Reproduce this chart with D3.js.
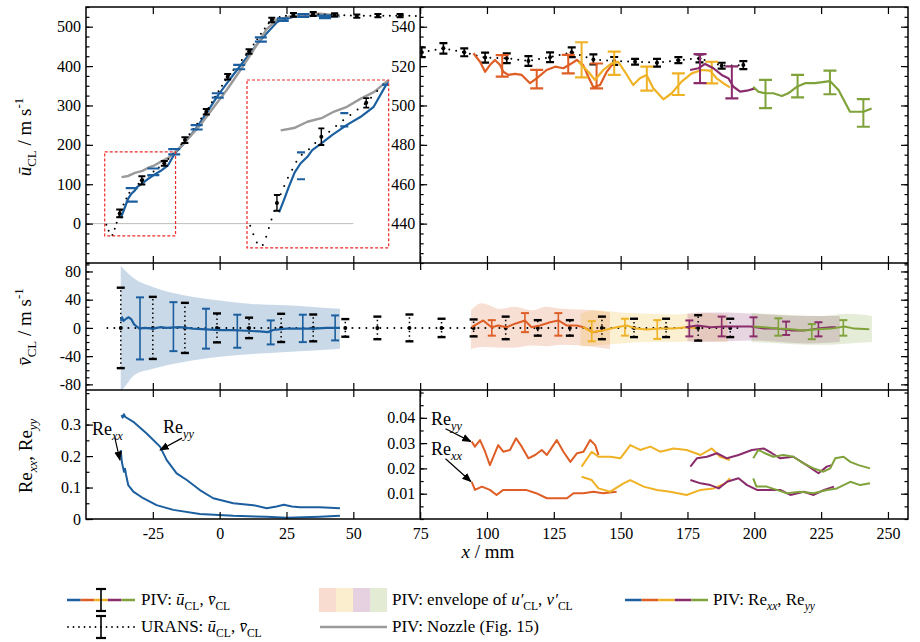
<!DOCTYPE html>
<html>
<head>
<meta charset="utf-8">
<script src="https://cdn.jsdelivr.net/npm/d3@7"></script>
<style>
  body { margin: 0; background: #fff; }
</style>
</head>
<body>
<div id="chart"></div>
<script>
// ---------------- data ----------------
// top panel: URANS centreline velocity (dotted), left part uses the left scale
const uransUL = [[-42.4,-3],[-41.8,-14],[-41.2,-24],[-40.2,-30],[-39.5,-19],[-39,-8],[-38.5,3],[-38,14],[-37.4,26],[-36.2,45],[-35.5,56],[-34.7,66],[-33.9,77],[-33,86],[-31.4,94],[-30.4,101],[-29.1,110],[-27.7,116],[-26.1,125],[-24.4,134],[-22.4,144],[-20.7,153],[-17,180],[-13,212],[-9,248],[-5,284],[-1,330],[3,373],[7,405],[11,437],[15,478],[19,515],[23,526],[27,530],[31,531],[35,532],[39,531],[43,530],[47,529],[51,528],[55,528],[59,528],[63,528],[67,528],[71,528],[75,527]]
const uransBarXL = [-37.4,-29.1,-20.7,-13,-5,3,11,19.5,27.6,35,43,51.3,59.2,67.5]
const uransBarUL = [26,110,153,212,284,373,437,517,530,532,530,527,528,528]
const uransBarEL = [10,10.5,6,7,7,7,6,6,5,5,4,4,4,4]
// right part (zoomed scale)
const uransBarXR = [75.6,83.7,91.5,99.3,107.4,115.5,123.6,131.7,139.8,147.6,155.4,163.6,171.6,179.5,187.8,195.9]
const uransBarUR = [527,529,527,524.3,524,522.6,524.5,527,523.4,522.6,522.2,521.7,523,523.9,520.2,520.5]
const uransBarER = [2.5,2.7,2,2.5,2.5,2.5,2.5,2.5,2.5,2,1.5,2,1.5,2,1.5,2]

// top panel: PIV (blue) and nozzle (gray)
const pivUL = [[-37,14],[-36.1,29.5],[-35.2,46],[-34.1,64.5],[-33,76],[-31.7,84.5],[-30.8,93],[-29.2,101],[-27.1,112],[-24.3,125],[-21.8,135],[-19.3,148],[-16.8,178],[-12.5,210],[-8.6,244],[-4.5,285],[-0.7,325],[3.3,362],[7.3,397],[11.3,432],[15.4,467],[19.5,497],[21.5,512],[23.6,518],[27.5,525],[31.3,528],[35.5,530],[39.4,525],[45,527]]
const pivCapX = [-32.9,-24.8,-17,-8.6,-0.7,7.3,15.4,23.6,31.3,39.4]
const pivCapU = [73,131.5,182.5,244.5,325.5,397.5,467.5,518,528.5,525]
const pivCapE = [17,8.5,6.5,5.5,5.5,5.5,5.5,3,3.5,3]
const nozzle = [[-36.7,118],[-34.2,121],[-31.7,129],[-28.9,134],[-26.7,142],[-24.3,148],[-21.8,158],[-19.2,167],[-16.9,180],[-12.3,212],[-7.3,250],[-2.3,295],[2.7,340],[7.6,388],[12.6,440],[17.6,494],[21.3,517],[26.3,526],[32.6,530],[37.5,533],[42.5,530],[45,528]]

// top panel right: PIV windows
const uOrange = [[94.9,526.5],[97.4,522.2],[99.3,517.1],[101.1,520.5],[103,523.1],[104.9,520.5],[106.1,517.1],[108,515.5],[110.5,516],[113,515.5],[116.1,511.3],[118.6,513.8],[122.3,518],[125.5,519.7],[128.6,518.9],[131.7,521.4],[133.6,523.1],[136,520.5],[137.9,514.6],[139.8,509.2],[142.3,510.4],[144.8,517.1],[146.7,520.5],[148.1,523]]
const uYellow = [[134.2,522.2],[137.9,517.1],[140.4,512.9],[143.5,518],[146.6,521.4],[149.1,522.2],[151.6,517.1],[154.7,510.4],[157.2,513.8],[159.7,515.5],[162.2,508.7],[166,503.1],[169.1,506.2],[172.8,512.1],[176.6,516.3],[180.3,518],[183.4,517.7],[185.9,513.8],[188.4,511.3],[190.9,509.2]]
const uPurple = [[176,518],[179.1,518.9],[181.6,521.1],[184.7,518.9],[187.8,515.5],[190.3,513.8],[192.2,509.5],[194.7,507],[197.2,507.5],[200.3,508.7]]
const uGreen = [[199.6,509.5],[201.5,507],[204,506.2],[207.1,506.2],[210.3,504.8],[212.7,506.2],[215.9,509.5],[219,511.3],[222.7,511.3],[228.3,512.4],[231.5,507.8],[235.8,496.8],[240.8,496.8],[243.9,498.5]]
const uBarOrange = {x: [105.7,118.6,130.4,141], m: [520.1,513.4,521,515], e: [5.5,4.7,4.7,6.3]}
const uBarYellow = {x: [135.4,147.6,159.8,171.6,184.1], m: [523.2,521.4,513.6,510.8,516.7], e: [8.9,5.9,6.1,5.5,5.5]}
const uBarPurple = {x: [179.7,191.6], m: [518.7,511.7], e: [7.4,8.1]}
const uBarGreen = {x: [204.2,216.2,228.3,240.8], m: [505.8,509.8,511.7,496.2], e: [7.2,5.7,6,7]}

// middle panel: v
const uransVX = [-37,-25,-13,-1,11,23,35,47,59,71,83,95,107,119,131,143,155,167,179,191]
const uransVE = [57,44,35.5,20.5,14.5,20,19,12.5,16,19,13,12,16,11,11,16,13,13,18,13]
const uransVLine = [[-42,0],[196,0]]
const envBlue = [[-37,-91,88],[-35,-81,80],[-32,-67,70],[-25,-58,58],[-13,-48,46],[0,-41,39],[12,-37,34],[25,-34,32],[35,-32,29.5],[45,-29.5,27]]
const envOrange = [[94,-30,25],[98,-27,35],[105,-28,27],[110,-28,30],[117,-25,25],[122,-26,30],[128,-24,27],[135,-25,26],[140,-27,25],[146,-30,22]]
const envYellow = [[135,-26,20],[140,-25,25],[150,-22,22],[160,-20,20],[170,-20,19],[180,-19,21],[190,-20,19]]
const envPurple = [[175,-19,20],[180,-20,22],[190,-19,22],[200,-18,20],[210,-20,18],[220,-22,17],[232,-20,17]]
const envGreen = [[199,-20,21],[205,-21,20],[215,-23,18],[225,-24,17],[235,-22,20],[244,-20,17]]
const vBlue = [[-37,10],[-36.5,15],[-36,10],[-35,13],[-34,15],[-33,12],[-32,5],[-31,2],[-30,-1],[-28,0],[-25,-1],[-22,1],[-20,0],[-15,1],[-10,-1],[-5,-2],[0,-3],[5,-3],[10,-4],[15,-5],[18,-6],[20,-3],[25,-1],[30,-1],[35,-1],[40,0],[45,0]]
const vOrange = [[94.3,1],[98.6,10.6],[101.7,1],[104.2,3.5],[107.4,1],[110.5,6],[114.2,10.6],[116.7,1],[119.8,3.5],[123.6,8],[126.7,10.6],[129.8,3.5],[133.6,3.5],[136.1,1],[139.8,-6],[143.5,-3.5]]
const vYellow = [[136,1],[139.2,-6],[143.5,-3.5],[148.5,1],[152.2,3.5],[156,-1],[159.7,-2.3],[164.7,-1],[169.7,-1],[174.7,1],[178,0]]
const vPurple = [[174.3,1],[178.7,3.5],[183.7,1],[188.7,2],[193.7,2],[198.7,2],[203.7,-1],[208.7,-1],[213.7,-3.5],[218.7,-3.5],[223.7,-1],[228.7,1],[230.6,1]]
const vGreen = [[199.6,2],[203.7,1],[208.7,-1],[213.7,-2],[218.7,-3.5],[223.7,-2],[228.7,-1],[233.7,2],[237.4,-1],[243,-2]]
const vBarBlue = {x: [-29.8,-17.3,-5.1,6.6,19.1,31.1,43.2], m: [-0.7,1.8,-1.1,-4.7,-6.4,-0.7,0], e: [44,34.7,28.3,23.4,17,19.4,17.7]}
const vBarOrange = {x: [101.8,114.2,126.7], m: [0,7.5,5], e: [11,13.5,16]}
const vBarYellow = {x: [139.2,151.6,163.7], m: [-4.7,1,-2.3], e: [14.3,12,13.3]}
const vBarPurple = {x: [175.7,187.8,199.7,211.9,224], m: [-0.7,2,1.5,-0.5,-2], e: [11.3,14,13.5,9.5,10]}
const vBarGreen = {x: [209,221.5,233.3], m: [1.3,-5.3,0], e: [12.3,10.7,11]}

// bottom panel: Reynolds stresses
const reyyBlue = [[-36.7,0.330],[-36.3,0.322],[-35.8,0.333],[-35.4,0.325],[-32.3,0.309],[-27.3,0.272],[-22.3,0.230],[-19.8,0.187],[-16.1,0.145],[-12.3,0.124],[-7.4,0.092],[-2.4,0.066],[5.1,0.050],[12.6,0.044],[17.6,0.034],[21.3,0.040],[24,0.045],[27,0.040],[30,0.037],[37.5,0.037],[45,0.034]]
const rexxBlue = [[-37,0.219],[-36.6,0.182],[-35.8,0.150],[-35.4,0.160],[-35,0.140],[-34.2,0.108],[-32.3,0.087],[-28.6,0.066],[-23.6,0.044],[-17.3,0.029],[-7.4,0.016],[5.1,0.010],[17.6,0.007],[25.1,0.004],[37.5,0.007],[45,0.010]]
const reyyOrange = [[94.3,0.0306],[95.5,0.0286],[97.4,0.0312],[99.3,0.0266],[101.1,0.0213],[104.2,0.0292],[106.1,0.0266],[108.6,0.0273],[110.9,0.0319],[113,0.0286],[115.5,0.0240],[118,0.0253],[120.5,0.0273],[122.4,0.0253],[126.1,0.0312],[128.6,0.0266],[131.2,0.0226],[133.7,0.0260],[136.1,0.0266],[138.6,0.0312],[140.5,0.0292],[141.7,0.0253]]
const rexxOrange = [[94.3,0.0147],[95.5,0.0115],[98.1,0.0128],[101.1,0.0115],[103.6,0.0095],[106.1,0.0115],[110.9,0.0115],[114.6,0.0115],[118.4,0.0102],[122.4,0.0082],[126.1,0.0082],[129.9,0.0082],[132.4,0.0102],[136.1,0.0102],[139.8,0.0108],[143.5,0.0102],[148.5,0.0108]]
const reyyYellow = [[135.4,0.0207],[136.6,0.0226],[139.2,0.0266],[141.7,0.0246],[146.1,0.0246],[149.9,0.0240],[153.6,0.0292],[157.3,0.0273],[161.1,0.0286],[164.8,0.0266],[169.8,0.0279],[174.7,0.0273],[179.9,0.0253],[184.1,0.0279],[187.2,0.0246],[190.9,0.0233]]
const rexxYellow = [[135.4,0.0167],[139.2,0.0154],[141.7,0.0121],[146.1,0.0108],[151.1,0.0141],[153.6,0.0154],[158.6,0.0128],[163.6,0.0115],[168.5,0.0108],[174.7,0.0095],[179.9,0.0115],[184.7,0.0121],[189.2,0.0141],[190.9,0.0161]]
const reyyPurple = [[176.1,0.0207],[178.5,0.0240],[182.3,0.0246],[186,0.0260],[189.8,0.0240],[194.1,0.0253],[199.1,0.0273],[203.5,0.0279],[206.6,0.0260],[209.7,0.0240],[214.6,0.0246],[219.6,0.0213],[224,0.0181],[227.1,0.0207],[229,0.0213]]
const rexxPurple = [[176.1,0.0154],[179.9,0.0141],[183.6,0.0134],[186.7,0.0121],[189.8,0.0147],[194.1,0.0161],[197.3,0.0134],[201,0.0115],[205.4,0.0115],[209.7,0.0115],[213.5,0.0095],[218.5,0.0108],[222.2,0.0095],[226.1,0.0115],[229.8,0.0128]]
const reyyGreen = [[199.6,0.0240],[201.5,0.0273],[204,0.0260],[207.1,0.0246],[210.9,0.0253],[214.6,0.0246],[218.4,0.0220],[222.2,0.0200],[225.9,0.0187],[228.4,0.0200],[230.3,0.0240],[233.4,0.0246],[235.9,0.0226],[239,0.0213],[243.3,0.0200]]
const rexxGreen = [[199.6,0.0161],[200.8,0.0128],[204.6,0.0128],[208.4,0.0115],[212.2,0.0102],[217.2,0.0108],[222.2,0.0102],[227.2,0.0115],[230.9,0.0121],[235.9,0.0147],[239.6,0.0134],[243.3,0.0141]]

// tick values
const xTickVals = [-50,-25,0,25,50,75,100,125,150,175,200,225,250]
const uLeftTicks = [0,100,200,300,400,500]
const uRightTicks = [440,460,480,500,520,540]
const vTicks = [-80,-40,0,40,80]
const reLeftTicks = [0,0.1,0.2,0.3]
const reRightTicks = [0.01,0.02,0.03,0.04]

// ---------------- layout ----------------
const W = 920, H = 642
const FONT = "'Liberation Serif', 'Times New Roman', Times, Tinos, 'Noto Serif', 'DejaVu Serif', FreeSerif, Georgia, serif"
const plot = {left: 86, right: 908, top: 7, midTop: 263, botTop: 390, bottom: 519}
const xSplit = 75
const zoomBox = {x0: -43, x1: -16.5, u0: -31, u1: 182}
const inset = {left: 247, top: 80, mag: 2}

const blue = '#1c5f9f', orange = '#de5e26', yellow = '#efb224', purple = '#8a2c6c', green = '#7fa23b', gray = '#9a9a9a'

const x = d3.scaleLinear().domain([-50, 257.5]).range([plot.left, plot.right])
const yUL = d3.scaleLinear().domain([-100, 550]).range([plot.midTop, plot.top])
const yUR = d3.scaleLinear().domain([420, 550]).range([plot.midTop, plot.top])
const yV = d3.scaleLinear().domain([-88, 92]).range([plot.botTop, plot.midTop])
const yRL = d3.scaleLinear().domain([0, 0.41]).range([plot.bottom, plot.botTop])
const yRR = d3.scaleLinear().domain([0, 0.051]).range([plot.bottom, plot.botTop])

const xi = d3.scaleLinear().domain([zoomBox.x0, zoomBox.x1])
  .range([inset.left, inset.left + inset.mag * (x(zoomBox.x1) - x(zoomBox.x0))])
const yi = d3.scaleLinear().domain([zoomBox.u1, zoomBox.u0])
  .range([inset.top, inset.top + inset.mag * (yUL(zoomBox.u0) - yUL(zoomBox.u1))])

const svg = d3.select('#chart').append('svg').attr('width', W).attr('height', H)
  .attr('font-family', FONT)
const defs = svg.append('defs')

function clip(id, x0, y0, x1, y1) {
  defs.append('clipPath').attr('id', id).append('rect')
    .attr('x', x0).attr('y', y0).attr('width', x1 - x0).attr('height', y1 - y0)
  return `url(#${id})`
}
const xs = x(xSplit)
const clipUL = clip('cUL', plot.left, plot.top, xs, plot.midTop)
const clipUR = clip('cUR', xs, plot.top, plot.right, plot.midTop)
const clipV = clip('cV', plot.left, plot.midTop, plot.right, plot.botTop)
const clipRL = clip('cRL', plot.left, plot.botTop, xs, plot.bottom)
const clipRR = clip('cRR', xs, plot.botTop, plot.right, plot.bottom)
const clipIn = clip('cIn', xi(zoomBox.x0), yi(zoomBox.u1), xi(zoomBox.x1), yi(zoomBox.u0))

defs.append('marker').attr('id', 'arr').attr('viewBox', '0 0 10 10').attr('refX', 9).attr('refY', 5)
  .attr('markerWidth', 8).attr('markerHeight', 8).attr('orient', 'auto')
  .append('path').attr('d', 'M0,1 L10,5 L0,9 z').attr('fill', '#000')

// ---------------- helpers ----------------
function drawLine(g, data, sx, sy, color, w, dash) {
  return g.append('path').datum(data)
    .attr('d', d3.line().x(d => sx(d[0])).y(d => sy(d[1])))
    .attr('fill', 'none').attr('stroke', color).attr('stroke-width', w)
    .attr('stroke-linejoin', 'round')
    .attr('stroke-linecap', dash ? 'round' : 'butt')
    .attr('stroke-dasharray', dash || null)
}

function drawArea(g, data, sx, sy, color, op) {
  g.append('path').datum(data)
    .attr('d', d3.area().x(d => sx(d[0])).y0(d => sy(d[1])).y1(d => sy(d[2])).curve(d3.curveMonotoneX))
    .attr('fill', color).attr('fill-opacity', op).attr('stroke', 'none')
}

function drawBars(g, bx, bm, be, sx, sy, o) {
  const rows = bx.map((v, i) => ({x: v, m: bm[i], e: be[i]}))
  const grp = g.append('g')
  const b = grp.selectAll('g').data(rows).join('g')
  if (!o.noStem) {
    b.append('line')
      .attr('x1', d => sx(d.x)).attr('x2', d => sx(d.x))
      .attr('y1', d => sy(d.m - d.e)).attr('y2', d => sy(d.m + d.e))
      .attr('stroke', o.color).attr('stroke-width', o.stem || 1.6)
      .attr('stroke-dasharray', o.stemDash || null)
  }
  ;[-1, 1].forEach(s => {
    b.append('line')
      .attr('x1', d => sx(d.x) - o.cap / 2).attr('x2', d => sx(d.x) + o.cap / 2)
      .attr('y1', d => sy(d.m + s * d.e)).attr('y2', d => sy(d.m + s * d.e))
      .attr('stroke', o.color).attr('stroke-width', o.capW || 2)
  })
  if (o.dot) {
    b.append('circle').attr('cx', d => sx(d.x)).attr('cy', d => sy(d.m))
      .attr('r', o.dot).attr('fill', o.color)
  }
}

function rich(t, parts, size) {
  t.attr('font-family', FONT).attr('fill', '#000')
  let shift = 0
  parts.forEach(([s, k]) => {
    let target = 0, fs = size
    if (k === 'sub' || k === 'subi') { target = 0.28 * size; fs = 0.68 * size }
    if (k === 'sup') { target = -0.42 * size; fs = 0.68 * size }
    const sp = t.append('tspan').text(s).attr('font-size', fs)
    if (target - shift !== 0) sp.attr('dy', target - shift)
    if (k === 'i' || k === 'subi') sp.attr('font-style', 'italic')
    shift = target
  })
}

const fmt = d => String(d)
function yAxis(scale, xPos, major, minor, labels, right) {
  const g = svg.append('g').attr('transform', `translate(${xPos},0)`)
  const mk = right ? d3.axisRight : d3.axisLeft
  g.append('g').call(mk(scale).tickValues(minor).tickSize(-3.5).tickFormat(''))
  g.append('g').call(mk(scale).tickValues(major).tickSize(-7).tickPadding(labels ? labels : 3)
    .tickFormat(labels ? fmt : ''))
  g.selectAll('.domain').remove()
  g.selectAll('line').attr('stroke', '#000').attr('stroke-width', 1.2)
  g.selectAll('g').attr('font-family', FONT).attr('font-size', 16)
  g.selectAll('text').attr('fill', '#000')
}
function xAxis(yPos, down, labels) {
  const g = svg.append('g').attr('transform', `translate(0,${yPos})`)
  const ax = (down ? d3.axisTop(x) : d3.axisBottom(x)).tickValues(xTickVals.slice(1)).tickSize(-7)
    .tickPadding(9).tickFormat(labels ? fmt : '')
  g.call(ax)
  g.select('.domain').remove()
  g.selectAll('line').attr('stroke', '#000').attr('stroke-width', 1.2)
  g.attr('font-family', FONT).attr('font-size', 16)
  g.selectAll('text').attr('fill', '#000')
  return g
}
const range = (a, b, s) => d3.range(a, b + s / 2, s)

// ---------------- top panel ----------------
const gUL = svg.append('g').attr('clip-path', clipUL)
drawLine(gUL, [[-50, 0], [50, 0]], x, yUL, '#bdbdbd', 1)
drawLine(gUL, pivUL, x, yUL, blue, 2.2)
drawLine(gUL, nozzle, x, yUL, gray, 2.4)
drawLine(gUL, uransUL, x, yUL, '#000', 2, '0 6.5')
drawBars(gUL, pivCapX, pivCapU, pivCapE, x, yUL, {color: blue, cap: 12, capW: 2.2, noStem: true})
drawBars(gUL, uransBarXL, uransBarUL, uransBarEL, x, yUL, {color: '#000', cap: 7, capW: 2, stem: 1.6, dot: 2})

// zoom boxes
const boxStyle = s => s.attr('fill', 'none').attr('stroke', '#ee2a2a').attr('stroke-width', 1.2).attr('stroke-dasharray', '3 2')
svg.append('rect').attr('x', x(zoomBox.x0)).attr('y', yUL(zoomBox.u1))
  .attr('width', x(zoomBox.x1) - x(zoomBox.x0)).attr('height', yUL(zoomBox.u0) - yUL(zoomBox.u1)).call(boxStyle)
const gIn = svg.append('g').attr('clip-path', clipIn)
drawLine(gIn, pivUL, xi, yi, blue, 2.2)
drawLine(gIn, nozzle, xi, yi, gray, 2.4)
drawLine(gIn, uransUL, xi, yi, '#000', 2, '0 9')
drawBars(gIn, pivCapX, pivCapU, pivCapE, xi, yi, {color: blue, cap: 8, capW: 2.2, noStem: true})
drawBars(gIn, uransBarXL, uransBarUL, uransBarEL, xi, yi, {color: '#000', cap: 6, capW: 1.8, stem: 1.4, dot: 2})
svg.append('rect').attr('x', xi(zoomBox.x0)).attr('y', yi(zoomBox.u1))
  .attr('width', xi(zoomBox.x1) - xi(zoomBox.x0)).attr('height', yi(zoomBox.u0) - yi(zoomBox.u1)).call(boxStyle)

const gUR = svg.append('g').attr('clip-path', clipUR)
drawLine(gUR, uransBarXR.map((v, i) => [v, uransBarUR[i]]), x, yUR, '#000', 2, '0 7')
drawBars(gUR, uransBarXR, uransBarUR, uransBarER, x, yUR, {color: '#000', cap: 8, capW: 2.2, stem: 1.6, dot: 2})
;[[uOrange, uBarOrange, orange], [uYellow, uBarYellow, yellow], [uPurple, uBarPurple, purple], [uGreen, uBarGreen, green]]
  .forEach(([ln, br, c]) => {
    drawLine(gUR, ln, x, yUR, c, 2.2)
    drawBars(gUR, br.x, br.m, br.e, x, yUR, {color: c, cap: 13, capW: 2.2, stem: 2})
  })

// ---------------- middle panel ----------------
const gV = svg.append('g').attr('clip-path', clipV)
drawArea(gV, envBlue, x, yV, blue, 0.24)
;[[envOrange, orange], [envYellow, yellow], [envPurple, purple], [envGreen, green]]
  .forEach(([e, c]) => drawArea(gV, e, x, yV, c, 0.2))
drawLine(gV, uransVLine, x, yV, '#000', 2, '0 7')
drawBars(gV, uransVX, uransVX.map(() => 0), uransVE, x, yV, {color: '#000', cap: 8, capW: 2.4, stem: 1.5, stemDash: '1.5 3', dot: 2})
drawLine(gV, vBlue, x, yV, blue, 2.2)
drawBars(gV, vBarBlue.x, vBarBlue.m, vBarBlue.e, x, yV, {color: blue, cap: 8, capW: 2, stem: 1.6})
;[[vOrange, vBarOrange, orange], [vYellow, vBarYellow, yellow], [vPurple, vBarPurple, purple], [vGreen, vBarGreen, green]]
  .forEach(([ln, br, c]) => {
    drawLine(gV, ln, x, yV, c, 2)
    drawBars(gV, br.x, br.m, br.e, x, yV, {color: c, cap: 8, capW: 2, stem: 1.6})
  })

// ---------------- bottom panel ----------------
const gRL = svg.append('g').attr('clip-path', clipRL)
drawLine(gRL, reyyBlue, x, yRL, blue, 2)
drawLine(gRL, rexxBlue, x, yRL, blue, 2)
const gRR = svg.append('g').attr('clip-path', clipRR)
;[[reyyOrange, rexxOrange, orange], [reyyYellow, rexxYellow, yellow], [reyyPurple, rexxPurple, purple], [reyyGreen, rexxGreen, green]]
  .forEach(([a, b, c]) => { drawLine(gRR, a, x, yRR, c, 2); drawLine(gRR, b, x, yRR, c, 2) })

// annotations (data coordinates)
const notes = [
  {sy: yRL, t: 'xx', tx: -47.8, ty: 0.267, a: [[-39.2, 0.258], [-37.3, 0.187]]},
  {sy: yRL, t: 'yy', tx: -21.2, ty: 0.273, a: [[-14.1, 0.257], [-22.3, 0.219]]},
  {sy: yRR, t: 'yy', tx: 79.1, ty: 0.0372, a: [[84.5, 0.0357], [94, 0.0306]]},
  {sy: yRR, t: 'xx', tx: 79.1, ty: 0.0253, a: [[84.5, 0.0238], [94, 0.0148]]}
]
notes.forEach(n => {
  rich(svg.append('text').attr('x', x(n.tx)).attr('y', n.sy(n.ty)), [['Re', ''], [n.t, 'subi']], 18)
  svg.append('line').attr('x1', x(n.a[0][0])).attr('y1', n.sy(n.a[0][1]))
    .attr('x2', x(n.a[1][0])).attr('y2', n.sy(n.a[1][1]))
    .attr('stroke', '#000').attr('stroke-width', 1.2).attr('marker-end', 'url(#arr)')
})

// ---------------- frame and axes ----------------
svg.append('rect').attr('x', plot.left).attr('y', plot.top)
  .attr('width', plot.right - plot.left).attr('height', plot.bottom - plot.top)
  .attr('fill', 'none').attr('stroke', '#000').attr('stroke-width', 1.5)
;[plot.midTop, plot.botTop].forEach(yy => svg.append('line').attr('x1', plot.left).attr('x2', plot.right)
  .attr('y1', yy).attr('y2', yy).attr('stroke', '#000').attr('stroke-width', 1.5))
;[[plot.top, plot.midTop], [plot.botTop, plot.bottom]].forEach(([a, b]) => svg.append('line')
  .attr('x1', xs).attr('x2', xs).attr('y1', a).attr('y2', b).attr('stroke', '#000').attr('stroke-width', 1.5))

xAxis(plot.top, true, false)
xAxis(plot.midTop, false, false)
xAxis(plot.midTop, true, false)
xAxis(plot.botTop, false, false)
xAxis(plot.botTop, true, false)
xAxis(plot.bottom, false, true)

yAxis(yUL, plot.left, uLeftTicks, range(-100, 550, 25), 5)
yAxis(yUR, xs, uRightTicks, range(420, 550, 5), 5)
yAxis(yUR, plot.right, uRightTicks, range(420, 550, 5), 0, true)
yAxis(yV, plot.left, vTicks, range(-80, 90, 10), 5)
yAxis(yV, plot.right, vTicks, range(-80, 90, 10), 0, true)
yAxis(yRL, plot.left, reLeftTicks, range(0, 0.4, 0.05), 5)
yAxis(yRR, xs, reRightTicks, range(0, 0.05, 0.005), 5)
yAxis(yRR, plot.right, reRightTicks, range(0, 0.05, 0.005), 0, true)

// axis titles
const yTitle = (cx, cy, parts) => rich(svg.append('text').attr('text-anchor', 'middle')
  .attr('transform', `translate(${cx},${cy}) rotate(-90)`), parts, 19)
yTitle(31, 137, [['\u016B', 'i'], ['CL', 'sub'], ['  /  m s', ''], ['-1', 'sup']])
yTitle(31, 327, [['v\u0304', 'i'], ['CL', 'sub'], ['  /  m s', ''], ['-1', 'sup']])
yTitle(32, 456, [['Re', ''], ['xx', 'subi'], [', Re', ''], ['yy', 'subi']])
rich(svg.append('text').attr('x', 488).attr('y', 558).attr('text-anchor', 'middle'),
  [['x', 'i'], ['  /  mm', '']], 19)

// ---------------- legend ----------------
const leg = svg.append('g')
const legCols = [blue, orange, yellow, purple, green]
const row1 = 600, row2 = 627
function legendBar(cx, cy) {
  leg.append('line').attr('x1', cx).attr('x2', cx).attr('y1', cy - 11).attr('y2', cy + 11).attr('stroke', '#000').attr('stroke-width', 1.6)
  ;[-11, 11].forEach(o => leg.append('line').attr('x1', cx - 5).attr('x2', cx + 5)
    .attr('y1', cy + o).attr('y2', cy + o).attr('stroke', '#000').attr('stroke-width', 2.2))
}
function legendSegments(x0, x1, cy) {
  const s = (x1 - x0) / legCols.length
  legCols.forEach((c, i) => leg.append('line').attr('x1', x0 + i * s).attr('x2', x0 + (i + 1) * s)
    .attr('y1', cy).attr('y2', cy).attr('stroke', c).attr('stroke-width', 2.5))
}
legendSegments(67, 135, row1)
legendBar(101, row1)
leg.append('line').attr('x1', 68).attr('x2', 136).attr('y1', row2).attr('y2', row2)
  .attr('stroke', '#000').attr('stroke-width', 1.8).attr('stroke-linecap', 'round').attr('stroke-dasharray', '0 5.5')
legendBar(101, row2)
;[orange, yellow, purple, green].forEach((c, i) => leg.append('rect').attr('x', 319 + i * 17).attr('y', row1 - 12)
  .attr('width', 17).attr('height', 24).attr('fill', c).attr('fill-opacity', 0.22))
leg.append('line').attr('x1', 320).attr('x2', 387).attr('y1', row2).attr('y2', row2).attr('stroke', gray).attr('stroke-width', 2.4)
legendSegments(625, 708, row1)

const legText = (tx, ty, parts) => rich(leg.append('text').attr('x', tx).attr('y', ty + 5), parts, 17)
legText(141, row1, [['PIV: ', ''], ['\u016B', 'i'], ['CL', 'sub'], [', ', ''], ['v\u0304', 'i'], ['CL', 'sub']])
legText(141, row2, [['URANS: ', ''], ['\u016B', 'i'], ['CL', 'sub'], [', ', ''], ['v\u0304', 'i'], ['CL', 'sub']])
legText(392, row1, [['PIV: envelope of ', ''], ['u\u2032', 'i'], ['CL', 'sub'], [', ', ''], ['v\u2032', 'i'], ['CL', 'sub']])
legText(392, row2, [['PIV: Nozzle (Fig. 15)', '']])
legText(713, row1, [['PIV: Re', ''], ['xx', 'subi'], [', Re', ''], ['yy', 'subi']])
</script>
</body>
</html>
